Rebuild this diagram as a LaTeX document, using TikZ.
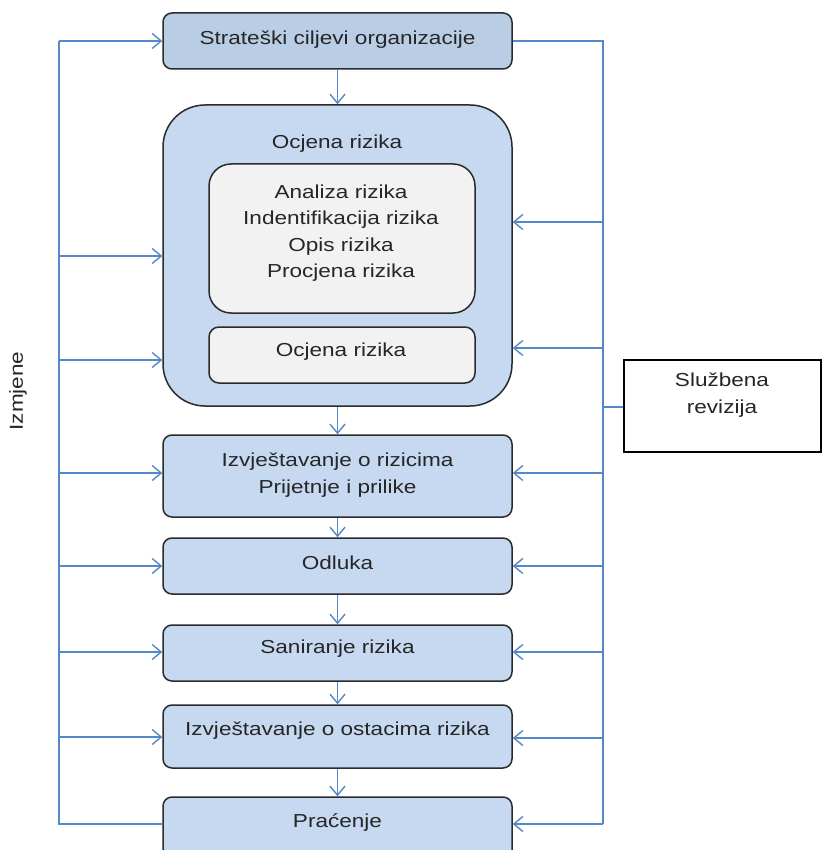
\documentclass[tikz,border=0pt]{standalone}
\usepackage{fontspec}
\setmainfont{Liberation Sans}[FakeStretch=1.2]
\usetikzlibrary{arrows.meta}
\definecolor{lineblue}{HTML}{5389C9}
\definecolor{boxline}{HTML}{2B2B2B}
\definecolor{topfill}{HTML}{B9CDE5}
\definecolor{boxfill}{HTML}{C6D9F1}
\definecolor{innerfill}{HTML}{F2F2F2}
\definecolor{textcol}{HTML}{262626}
\begin{document}
\begin{tikzpicture}[x=1pt,y=-1pt,
  conn/.style={draw=lineblue, line width=1.4pt},
  arr/.style={conn, -{Straight Barb[length=9pt,width=15pt,line width=1.4pt]}},
  box/.style={draw=boxline, line width=1.5pt, fill=boxfill, rounded corners=9pt, minimum width=349pt, inner sep=0pt},
  innerbox/.style={draw=boxline, line width=1.5pt, fill=innerfill, minimum width=266pt, inner sep=0pt},
  txt/.style={font=\fontsize{18.8}{26.5}\selectfont, text=textcol, align=center, inner sep=0pt},
]
\useasboundingbox (0,0) rectangle (822,850);
\clip (0,0) rectangle (822,850);
\fill[white] (0,0) rectangle (822,850);

% boxes
\node[box, fill=topfill, minimum height=56pt] (b1) at (337.5,41) {};
\node[box, rounded corners=42pt, minimum height=301pt] (big) at (337.5,255.5) {};
\node[innerbox, rounded corners=22pt, minimum height=149pt] (in1) at (342,238.5) {};
\node[innerbox, rounded corners=10pt, minimum height=56pt] (in2) at (342,355) {};
\node[box, minimum height=82pt] (b3) at (337.5,476) {};
\node[box, minimum height=56pt] (b4) at (337.5,566) {};
\node[box, minimum height=56pt] (b5) at (337.5,653) {};
\node[box, minimum height=63pt] (b6) at (337.5,736.5) {};
\node[box, minimum height=80pt] (b7) at (337.5,837) {};
\node[draw=black, line width=1.5pt, fill=white, minimum width=197pt, minimum height=92pt, inner sep=0pt] (rev) at (722.5,406) {};

% texts
\node[txt] (t1) at (337.5,40) {Strateški ciljevi organizacije};
\node[txt] (tbig) at (337,144) {Ocjena rizika};
\node[txt] (tin1) at (341,233) {Analiza rizika\\Indentifikacija rizika\\Opis rizika\\Procjena rizika};
\node[txt] (tin2) at (341,352) {Ocjena rizika};
\node[txt] (t3) at (337.5,475) {Izvještavanje o rizicima\\Prijetnje i prilike};
\node[txt] (t4) at (337.5,563) {Odluka};
\node[txt] (t5) at (337.5,649) {Saniranje rizika};
\node[txt] (t6) at (337.5,731) {Izvještavanje o ostacima rizika};
\node[txt] (t7) at (337.5,823) {Praćenje};
\node[txt] (trev) at (722,395) {Službena\\revizija};
\node[txt, rotate=90] (tiz) at (18,391) {Izmjene};

% vertical flow arrows
\draw[arr] (b1) -- (big);
\draw[arr] (big) -- (b3);
\draw[arr] (b3) -- (b4);
\draw[arr] (b4) -- (b5);
\draw[arr] (b5) -- (b6);
\draw[arr] (b6) -- (b7);

% left feedback line
\coordinate (L1) at (59,41);
\coordinate (L2) at (59,256);
\coordinate (L3) at (59,360);
\coordinate (L4) at (59,473);
\coordinate (L5) at (59,566);
\coordinate (L6) at (59,652);
\coordinate (L7) at (59,737);
\coordinate (L8) at (59,824);
\draw[conn] (L8 -| b7.west) -- (L8) -- (L1);
\draw[arr] (L1) -- (L1 -| b1.west);
\draw[arr] (L2) -- (L2 -| big.west);
\draw[arr] (L3) -- (L3 -| big.west);
\draw[arr] (L4) -- (L4 -| b3.west);
\draw[arr] (L5) -- (L5 -| b4.west);
\draw[arr] (L6) -- (L6 -| b5.west);
\draw[arr] (L7) -- (L7 -| b6.west);

% right feedback line
\coordinate (R1) at (603,41);
\coordinate (R2) at (603,222);
\coordinate (R3) at (603,348);
\coordinate (Rv) at (603,407);
\coordinate (R4) at (603,473);
\coordinate (R5) at (603,566);
\coordinate (R6) at (603,652);
\coordinate (R7) at (603,738);
\coordinate (R8) at (603,824);
\draw[conn] (b1.east) -- (R1) -- (R8);
\draw[arr] (R2) -- (R2 -| big.east);
\draw[arr] (R3) -- (R3 -| big.east);
\draw[conn] (Rv) -- (Rv -| rev.west);
\draw[arr] (R4) -- (R4 -| b3.east);
\draw[arr] (R5) -- (R5 -| b4.east);
\draw[arr] (R6) -- (R6 -| b5.east);
\draw[arr] (R7) -- (R7 -| b6.east);
\draw[arr] (R8) -- (R8 -| b7.east);
\end{tikzpicture}
\end{document}
